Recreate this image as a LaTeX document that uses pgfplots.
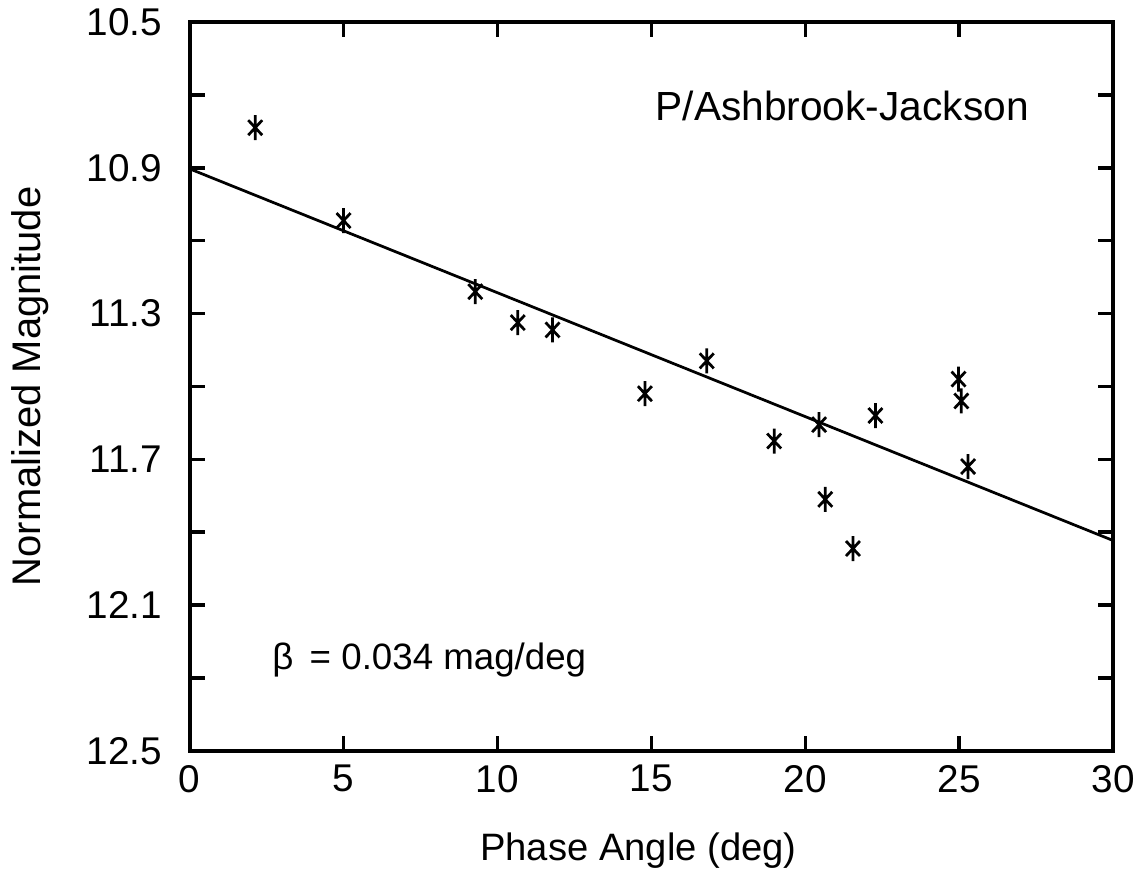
\documentclass[border=0pt]{standalone}
\usepackage{pgfplots}
\pgfplotsset{compat=1.18}
\usepackage{fontspec}
\setmainfont{Liberation Sans}
\pgfdeclareplotmark{star6}{%
  \pgfpathmoveto{\pgfqpoint{0pt}{1.25\pgfplotmarksize}}%
  \pgfpathlineto{\pgfqpoint{0pt}{-1.25\pgfplotmarksize}}%
  \pgfpathmoveto{\pgfqpoint{-0.7\pgfplotmarksize}{0.75\pgfplotmarksize}}%
  \pgfpathlineto{\pgfqpoint{0.7\pgfplotmarksize}{-0.75\pgfplotmarksize}}%
  \pgfpathmoveto{\pgfqpoint{0.7\pgfplotmarksize}{0.75\pgfplotmarksize}}%
  \pgfpathlineto{\pgfqpoint{-0.7\pgfplotmarksize}{-0.75\pgfplotmarksize}}%
  \pgfusepathqstroke}
\begin{document}
\begin{tikzpicture}
\begin{axis}[
  name=ax,
  scale only axis,
  width=370pt, height=292pt,
  xmin=0, xmax=30, ymin=10.5, ymax=12.5,
  y dir=reverse,
  axis line style={line width=1.6pt},
  xtick={0,5,...,30},
  ytick={10.5,10.7,10.9,11.1,11.3,11.5,11.7,11.9,12.1,12.3,12.5},
  yticklabels={10.5,,10.9,,11.3,,11.7,,12.1,,12.5},
  tick align=inside,
  major tick length=6pt,
  tick style={line width=1.4pt, black},
  /pgf/number format/assume math mode=true,
  ticklabel style={font=\fontsize{15.5}{18}\selectfont},
  yticklabel style={xshift=-7.5pt},
  xticklabel style={yshift=-2.3pt},
  xlabel={Phase Angle (deg)},
  ylabel={Normalized Magnitude},
  xlabel style={font=\fontsize{15.3}{18}\selectfont, at={(axis description cs:0.486,-0.1507)}, anchor=base},
  ylabel style={font=\fontsize{16}{19}\selectfont, at={(axis description cs:-0.173,0.5)}, anchor=center},
  clip=false,
]
\addplot[black, line width=1.1pt, no marks] coordinates {(0,10.903) (30,11.923)};
\addplot[only marks, mark=star6, mark size=4pt, mark options={line width=1.1pt, black}] coordinates {
(2.13,10.79)
(5.00,11.045)
(9.28,11.24)
(10.66,11.325)
(11.79,11.345)
(14.79,11.52)
(16.80,11.43)
(18.99,11.65)
(20.45,11.605)
(20.65,11.81)
(21.55,11.945)
(22.28,11.58)
(24.98,11.48)
(25.07,11.54)
(25.29,11.72)
};
\node[font=\fontsize{16.3}{19}\selectfont] at (axis cs:21.2,10.73) {P/Ashbrook-Jackson};
\node[font=\fontsize{14.7}{17}\selectfont, anchor=west] at (axis cs:2.4,12.25) {β\, = 0.034 mag/deg};
\end{axis}
\path (ax.south west) ++(-76pt,-56.8pt) coordinate (bbA);
\path (ax.north east) ++(13.2pt,8.8pt) coordinate (bbB);
\path (bbA) rectangle (bbB);
\end{tikzpicture}
\end{document}
